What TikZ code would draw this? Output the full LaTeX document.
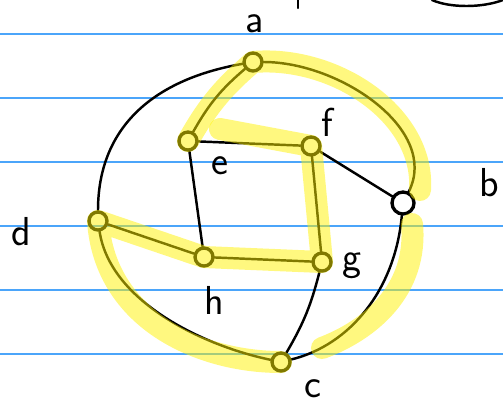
\documentclass[tikz,border=0pt]{standalone}
\usetikzlibrary{positioning}
\definecolor{ruleblue}{RGB}{75,165,250}
\tikzset{
  vtx/.style={circle, draw, line width=1.9pt, inner sep=0pt, minimum size=3.6mm},
  lbl/.style={font=\sffamily\fontsize{23}{23}\selectfont, inner sep=0pt},
  edge/.style={line width=1.4pt, line cap=round},
  hl/.style={draw=yellow, draw opacity=0.5, line width=4.4mm, line cap=round, line join=round},
  rule/.style={draw=ruleblue, line width=0.8pt}
}

\begin{document}
\begin{tikzpicture}[x=0.2mm, y=-0.2mm]
\useasboundingbox (0,0) rectangle (503,407);
% ruled paper
\foreach \y in {34,98,162,226,290,354}
  \draw[rule] (0,\y) -- (503,\y);

\node[vtx] (a) at (253,62) {};
\node[vtx] (e) at (188,141) {};
\node[vtx] (f) at (311,146) {};
\node[vtx, minimum size=4.4mm] (b) at (403,203) {};
\node[vtx] (d) at (98,221) {};
\node[vtx] (h) at (204,257) {};
\node[vtx] (g) at (322,262) {};
\node[vtx] (c) at (281,362) {};

\node[lbl] (la) at (255,24) {a};
\node[lbl] (le) at (220,166) {e};
\node[lbl] (lf) at (327,122) {f};
\node[lbl] (lb) at (489,183) {b};
\node[lbl] (ld) at (21,232) {d};
\node[lbl] (lh) at (214,300) {h};
\node[lbl] (lg) at (352,266) {g};
\node[lbl] (lc) at (313,389) {c};

\draw[edge] (a) .. controls (150,80) and (98,130) .. (d);
\draw[edge] (a) to[bend right=10] (e);
\draw[edge] (a) .. controls (340,62) and (440,130) .. (b);
\draw[edge] (e) -- (f);
\draw[edge] (e) -- (h);
\draw[edge] (f) -- (g);
\draw[edge] (f) -- (b);
\draw[edge] (d) -- (h);
\draw[edge] (h) -- (g);
\draw[edge] (g) to[bend left=8] (c);
\draw[edge] (d) .. controls (110,300) and (200,345) .. (c);
\draw[edge] (b) .. controls (395,290) and (350,345) .. (c);
% scraps at the top edge
\draw[edge] (432,0) .. controls (450,8) and (482,8) .. (503,0);
\draw[edge] (298,0) -- (298,8);

% highlighted cycle
\coordinate (he) at (220,129);
\coordinate (hb) at (420,190);
\coordinate (hb2) at (412,224);
\coordinate (hc) at (322,348);
\draw[hl] (e.center) to[bend left=10] (a.center)
  .. controls (335,55) and (425,115) .. (hb);
\draw[hl] (he) -- (f.center) -- (g.center) -- (h.center) -- (d.center)
  .. controls (105,320) and (200,362) .. (c.center);
\draw[hl] (hb2) .. controls (418,290) and (370,330) .. (hc);
\end{tikzpicture}
\end{document}
